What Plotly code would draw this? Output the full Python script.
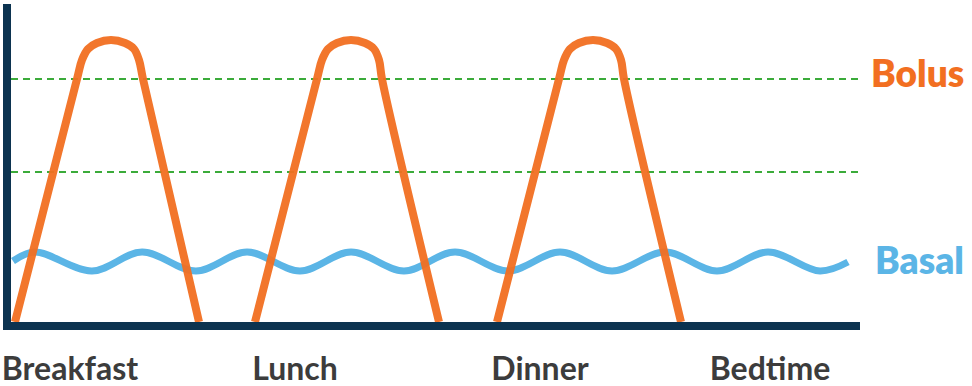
import plotly.graph_objects as go

# ---- data (arbitrary units: x = time of day, y = insulin level) ----
meal_labels = ["Breakfast", "Lunch", "Dinner", "Bedtime"]
meal_label_x = [70, 295, 540, 770]

bolus_y = [0, 243, 262, 273, 279, 282, 279, 273, 262, 243, 0]
bolus_breakfast_x = [15, 77, 82, 88, 97, 111, 125, 134, 139, 143, 199]
bolus_lunch_x = [255, 317, 322, 328, 337, 351, 365, 374, 379, 382, 439]
bolus_dinner_x = [497, 559, 564, 570, 579, 593, 607, 616, 621, 624, 681]

basal_x = [13, 35, 92, 142, 196, 247, 300, 351, 404, 455, 508, 560, 612,
           665, 717, 768, 820, 848]
basal_y = [61, 70, 51, 70, 51, 70, 51, 70, 51, 70, 51, 70, 51,
           70, 51, 70, 51, 60]

target_levels = [150, 243]

series_names = ["Bolus", "Basal"]

ORANGE = "#f26f21"
BLUE = "#5bb5e6"
NAVY = "#0c3350"
GREEN = "#3bab3a"
TEXT = "#3c3c3c"
FONT = "Lato"

fig = go.Figure()

fig.add_trace(go.Scatter(
    x=basal_x, y=basal_y, mode="lines",
    line=dict(color=BLUE, width=7, shape="spline", smoothing=1),
    hoverinfo="skip", showlegend=False,
))

for xs in (bolus_breakfast_x, bolus_lunch_x, bolus_dinner_x):
    fig.add_trace(go.Scatter(
        x=xs, y=bolus_y, mode="lines",
        line=dict(color=ORANGE, width=8, shape="spline", smoothing=1),
        opacity=0.95,
        hoverinfo="skip", showlegend=False,
    ))

# series labels at the right, outside the plot area (paper coords)
fig.add_annotation(x=1.0106, y=(322 - 73) / 318, xref="paper", yref="paper",
                   text=series_names[0], showarrow=False,
                   xanchor="left", yanchor="middle",
                   font=dict(family=FONT, size=37, color=ORANGE, weight=800))
fig.add_annotation(x=1.0153, y=(322 - 259) / 318, xref="paper", yref="paper",
                   text=series_names[1], showarrow=False,
                   xanchor="left", yanchor="middle",
                   font=dict(family=FONT, size=37, color=BLUE, weight=800))

fig.update_layout(
    width=972, height=386,
    margin=dict(l=11, r=112, t=4, b=64),
    paper_bgcolor="white", plot_bgcolor="white",
    xaxis=dict(
        range=[11, 860], showline=True, linewidth=8, linecolor=NAVY,
        showgrid=False, zeroline=False, ticks="",
        tickvals=meal_label_x, ticktext=meal_labels,
        tickfont=dict(family=FONT, size=32, color=TEXT, weight=700),
        ticklabelstandoff=12, automargin=False,
    ),
    yaxis=dict(
        range=[0, 318], showline=True, linewidth=8, linecolor=NAVY,
        showgrid=True, gridcolor=GREEN, gridwidth=1.5, griddash="7px,5px",
        tickvals=target_levels, showticklabels=False, ticks="",
        zeroline=False, automargin=False,
    ),
)

fig.write_html("out.html")
